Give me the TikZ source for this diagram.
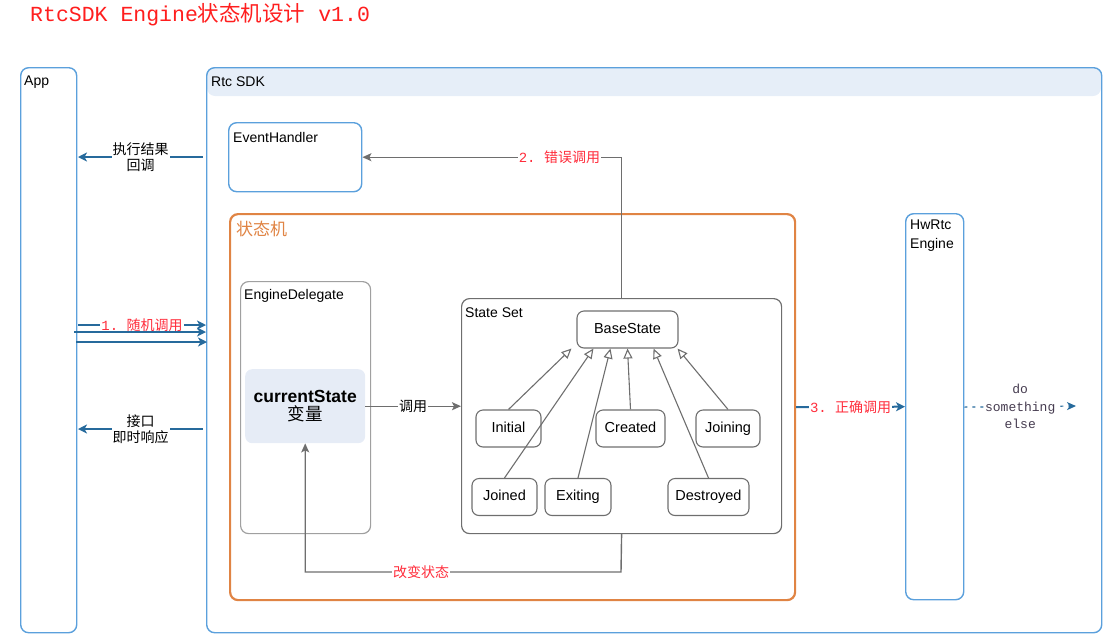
\documentclass[tikz,border=0pt]{standalone}
\usepackage{fontspec}
\setmainfont{Liberation Sans}
\newfontfamily\cjk{Noto Sans CJK SC}
\newfontfamily\mono{Liberation Mono}
\usetikzlibrary{arrows.meta,calc}
\definecolor{bluebd}{RGB}{91,160,220}
\definecolor{hdrfill}{RGB}{230,238,248}
\definecolor{arrblue}{RGB}{38,106,156}
\definecolor{stgray}{RGB}{110,110,110}
\definecolor{edgray}{RGB}{160,160,160}
\definecolor{orangebd}{RGB}{224,132,68}
\definecolor{redlbl}{RGB}{255,45,60}
\definecolor{csfill}{RGB}{230,236,246}
\definecolor{dotxt}{RGB}{70,60,80}
\tikzset{
  bbox/.style={draw=bluebd, line width=1.4pt, rounded corners=8pt, anchor=north west, inner sep=0pt},
  gbox/.style={draw=#1, line width=1.2pt, rounded corners=8pt, anchor=north west, inner sep=0pt},
  lbl/.style={anchor=west, inner sep=0pt, font=\fontsize{14}{17}\selectfont},
  state/.style={draw=stgray, line width=1.1pt, rounded corners=7pt, minimum height=37, inner sep=0pt, text height=10.5pt, text depth=3pt, font=\fontsize{14.5}{17}\selectfont},
  inh/.style={draw=stgray, line width=1.1pt, -{Triangle[open, length=10pt, width=9pt]}},
  garr/.style={draw=stgray, line width=1.4pt, -{Stealth[length=9pt, width=8pt, inset=2pt]}},
  barr/.style={draw=arrblue, line width=2pt, -{Stealth[length=9pt, width=9pt, inset=2.5pt]}},
  cn/.style={fill=white, inner sep=1pt, align=center, font=\cjk\fontsize{14}{16}\selectfont},
  rn/.style={cn, text=redlbl},
}
\begin{document}
\begin{tikzpicture}[x=1pt, y=-1pt]
\useasboundingbox (0,0) rectangle (1111,638);
% title
\node[anchor=west, inner sep=0pt, text={rgb,255:red,255;green,30;blue,30}, font=\fontsize{21.5}{24}\selectfont] (title) at (30,15) {\mono RtcSDK Engine\cjk 状态机设计\mono{} v1.0};
% App
\node[bbox, minimum width=56, minimum height=565] (app) at (20,67) {};
\node[lbl] (applbl) at (24,82) {App};
% Rtc SDK
\fill[hdrfill, rounded corners=8pt] (207,68) rectangle (1101,96);
\node[bbox, minimum width=895, minimum height=565] (sdk) at (206,67) {};
\node[lbl] (sdklbl) at (211,82) {Rtc SDK};
% EventHandler
\node[bbox, minimum width=133, minimum height=69] (eh) at (228,122) {};
\node[lbl] (ehlbl) at (233,137) {EventHandler};
% state machine
\node[gbox=orangebd, line width=2.2pt, minimum width=565, minimum height=386] (sm) at (229,213) {};
\node[lbl, text=orangebd, font=\cjk\fontsize{17}{19}\selectfont] (smlbl) at (236,229) {状态机};
% EngineDelegate
\node[gbox=edgray, minimum width=130, minimum height=252] (ed) at (240,281) {};
\node[lbl] (edlbl) at (244,296) {EngineDelegate};
\node[fill=csfill, rounded corners=7pt, anchor=north west, minimum width=120, minimum height=74, inner sep=0pt, align=center] (cs) at (245,369) {{\bfseries\fontsize{17.5}{20}\selectfont currentState}\\[2pt]{\cjk\fontsize{17.5}{20}\selectfont 变量}};
% State Set
\node[gbox=stgray, minimum width=320, minimum height=235] (ss) at (461,298) {};
\node[lbl] (sslbl) at (465,313) {State Set};
\node[state, minimum width=101] (base) at (627.5,329.5) {BaseState};
\node[state, minimum width=65] (initial) at (508.5,428.5) {Initial};
\node[state, minimum width=69] (created) at (630.5,428.5) {Created};
\node[state, minimum width=64] (joining) at (728,428.5) {Joining};
\node[state, minimum width=65] (joined) at (504.5,497) {Joined};
\node[state, minimum width=66] (exiting) at (578,497) {Exiting};
\node[state, minimum width=81] (destroyed) at (708.5,497) {Destroyed};
\draw[inh] (initial.north) -- ([xshift=-5pt]base.south west);
\draw[inh] (joined.north) -- ([xshift=17pt]base.south west);
\draw[inh] (exiting.north) -- ([xshift=34pt]base.south west);
\draw[inh] (created.north) -- (base.south);
\draw[inh] (destroyed.north) -- ([xshift=-25pt]base.south east);
\draw[inh] (joining.north) -- ([xshift=-1pt]base.south east);
% HwRtc Engine
\node[bbox, minimum width=58, minimum height=386] (hw) at (905,213) {};
\node[anchor=north west, inner sep=0pt, align=left, font=\fontsize{14}{19}\selectfont] (hwlbl) at (910,220) {HwRtc\\Engine};
% connectors inside
\draw[garr] (ss.north) |- node[rn, pos=0.62] {\mono 2.~\cjk 错误调用} (eh.east);
\draw[garr] (cs.east) -- node[cn] {调用} (ss.west |- cs.east);
\coordinate (cb) at (621,572);
\draw[garr] (ss.south) -- (cb) -| (cs.south);
\node[rn] (cblbl) at (421,572) {改变状态};
% right side
\draw[barr] (sm.east) -- node[rn] {\mono 3.~\cjk 正确调用} (hw.west);
\coordinate (dose) at (1076,406);
\draw[arrblue, line width=1.2pt, dash pattern=on 3pt off 5pt, -{Stealth[length=9pt, width=8pt, inset=2.5pt]}] (hw.east |- sm.east) -- node[fill=white, inner sep=1pt, text=dotxt, align=center, font=\mono\fontsize{13}{17.5}\selectfont] {do\\something\\else} (dose);
% left side
\coordinate (a1) at (203,157);
\coordinate (a1e) at (78,157);
\draw[barr] (a1) -- node[cn] {执行结果\\回调} (a1e);
\coordinate (r1s) at (78,325);
\coordinate (r1e) at (206,325);
\coordinate (r2s) at (74,332);
\coordinate (r2e) at (206,332);
\coordinate (r3s) at (76,342);
\coordinate (r3e) at (207,342);
\draw[barr] (r1s) -- node[rn] {\mono 1.~\cjk 随机调用} (r1e);
\draw[barr] (r2s) -- (r2e);
\draw[barr] (r3s) -- (r3e);
\coordinate (a2) at (203,429);
\coordinate (a2e) at (78,429);
\draw[barr] (a2) -- node[cn] {接口\\即时响应} (a2e);
\end{tikzpicture}
\end{document}
